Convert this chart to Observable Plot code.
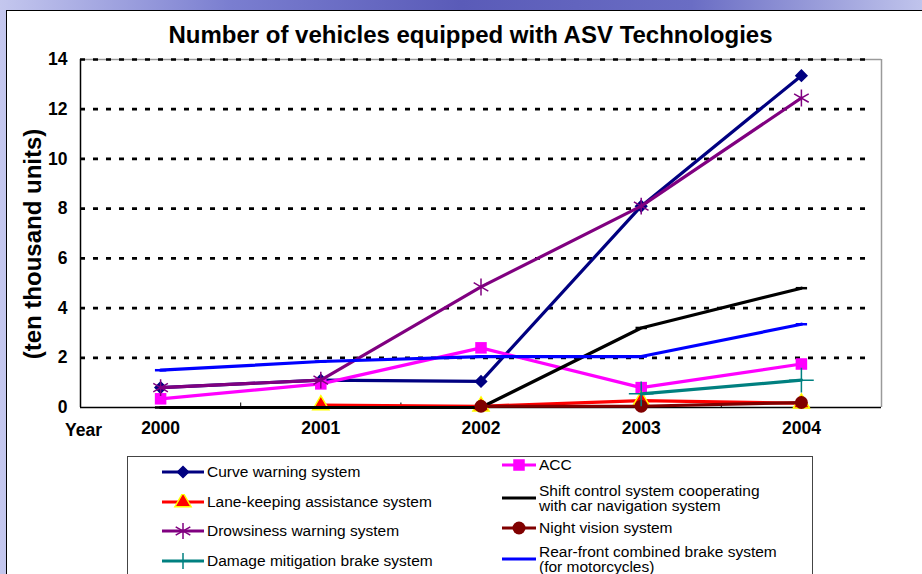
<!DOCTYPE html>
<html>
<head>
<meta charset="utf-8">
<script src="https://cdn.jsdelivr.net/npm/d3@7"></script>
<script src="https://cdn.jsdelivr.net/npm/@observablehq/plot@0.6"></script>
<style>
  html, body { margin: 0; padding: 0; }
  body {
    width: 922px; height: 574px; overflow: hidden; position: relative;
    background: linear-gradient(90deg, #c4c7ee 0%, #7a7ed0 25%, #5a5bb8 50%, #6a6dc4 75%, #c0c4ec 100%);
    font-family: "Liberation Sans", Arial, sans-serif;
  }
  #panel {
    position: absolute; left: 6px; top: 10px; right: 0; bottom: 0;
    background: #fff; border-left: 1.5px solid #000; border-top: 1.5px solid #000;
  }
  #title {
    position: absolute; left: 0; width: 941px; top: 21px; text-align: center;
    font-weight: bold; font-size: 24px; color: #000;
  }
  #ylabel {
    position: absolute; left: 33px; top: 244px; transform: translate(-50%, -50%) rotate(-90deg);
    white-space: nowrap; font-weight: bold; font-size: 24px;
  }
  #yearlbl { position: absolute; left: 65px; top: 420px; font-weight: bold; font-size: 17.5px; }
  #chart { position: absolute; left: 0; top: 0; }
  #legend {
    position: absolute; left: 127px; top: 456px; width: 684px; height: 140px;
    border: 1px solid #444; background: #fff;
  }
  .item { position: absolute; display: flex; align-items: center; font-size: 15.5px; line-height: 15.5px; }
  .item svg { flex: none; margin-right: 2px; }
</style>
</head>
<body>
<div id="panel"></div>
<div id="title">Number of vehicles equipped with ASV Technologies</div>
<div id="chart"></div>
<div id="ylabel">(ten thousand units)</div>
<div id="yearlbl">Year</div>
<div id="legend"></div>
<script>
// ---- data ----
const years = [2000, 2001, 2002, 2003, 2004];
const yTicks = [0, 2, 4, 6, 8, 10, 12, 14];
const seriesNames = [
  "Curve warning system",
  "ACC",
  "Lane-keeping assistance system",
  "Shift control system cooperating with car navigation system",
  "Drowsiness warning system",
  "Night vision system",
  "Damage mitigation brake system",
  "Rear-front combined brake system (for motorcycles)"
];
const legendLabels = [
  "Curve warning system", "ACC",
  "Lane-keeping assistance system", "Shift control system cooperating<br>with car navigation system",
  "Drowsiness warning system", "Night vision system",
  "Damage mitigation brake system", "Rear-front combined brake system<br>(for motorcycles)"
];
const curveWarning = [0.8, 1.1, 1.05, 8.1, 13.35];
const acc = [0.35, 0.95, 2.4, 0.8, 1.75];
const laneKeeping = [null, 0.1, 0.05, 0.28, 0.17];
const shiftControl = [0, 0, 0, 3.2, 4.8];
const drowsiness = [0.8, 1.1, 4.85, 8.1, 12.45];
const nightVision = [null, null, 0.05, 0.05, 0.2];
const damageMitigation = [null, null, null, 0.55, 1.1];
const rearFront = [1.5, 1.85, 2.05, 2.05, 3.35];
const seriesValues = [curveWarning, acc, laneKeeping, shiftControl, drowsiness, nightVision, damageMitigation, rearFront];

// ---- styles ----
const dashSymbol = {
  draw(context, size) {
    const l = Math.sqrt(size) * 0.8;
    context.moveTo(-l, 0);
    context.lineTo(l, 0);
  }
};
const styles = [
  {color: "#000080", symbol: "diamond2", fill: "#000080", stroke: "#000080", r: 5, sw: 1.5},
  {color: "#ff00ff", symbol: "square", fill: "#ff00ff", stroke: "none", r: 6.5, sw: 1.5},
  {color: "#ff0000", symbol: "triangle", fill: "#ff0000", stroke: "#ffff00", r: 6, sw: 1.5},
  {color: "#000000", symbol: dashSymbol, fill: "none", stroke: "#000000", r: 4, sw: 2.5, legendNoMarker: true},
  {color: "#800080", symbol: "asterisk", fill: "none", stroke: "#800080", r: 8, sw: 1.5},
  {color: "#800000", symbol: "circle", fill: "#800000", stroke: "none", r: 6.5, sw: 1.5},
  {color: "#008080", symbol: "plus", fill: "none", stroke: "#008080", r: 8, sw: 1.5},
  {color: "#0000ff", symbol: dashSymbol, fill: "none", stroke: "#0000ff", r: 4, sw: 2.5, legendNoMarker: true}
];

const marks = [
  Plot.ruleY([14], {stroke: "#9a9a9a", strokeWidth: 1.5}),
  Plot.ruleX([2004.5], {stroke: "#9a9a9a", strokeWidth: 1.5}),
  Plot.ruleY(yTicks.filter(d => d > 0), {x1: 1999.5, x2: 2004.45, stroke: "#000", strokeWidth: 2.7, strokeDasharray: "5,8"}),
  Plot.ruleX([2000.5, 2001.5, 2002.5, 2003.5], {y1: 0, y2: 0.18, stroke: "#000", strokeWidth: 1}),
  Plot.ruleX([1999.5], {stroke: "#000", strokeWidth: 1.5}),
  Plot.ruleY([0], {stroke: "#000", strokeWidth: 1.5})
];

seriesValues.forEach((vals, i) => {
  const rows = years.map((y, j) => ({year: y, value: vals[j]})).filter(d => d.value != null);
  const s = styles[i];
  marks.push(Plot.line(rows, {x: "year", y: "value", stroke: s.color, strokeWidth: 3.2}));
  if (s.symbol) {
    marks.push(Plot.dot(rows, {x: "year", y: "value", symbol: s.symbol, r: s.r, fill: s.fill, stroke: s.stroke, strokeWidth: s.sw}));
  }
});

const chart = Plot.plot({
  width: 922,
  height: 450,
  marginLeft: 80,
  marginRight: 41,
  marginTop: 59,
  marginBottom: 43,
  style: {background: "transparent", fontFamily: "'Liberation Sans', Arial, sans-serif", fontSize: "17.5px", fontWeight: "bold", color: "#000"},
  x: {type: "linear", domain: [1999.5, 2004.5]},
  y: {domain: [0, 14]},
  marks: [
    ...marks,
    Plot.axisY(yTicks, {tickSize: 0, tickPadding: 13, label: null, fontWeight: "bold"}),
    Plot.axisX(years, {tickSize: 0, tickPadding: 14, tickFormat: d => String(d), label: null, fontWeight: "bold"})
  ]
});
document.getElementById("chart").appendChild(chart);

// ---- legend ----
const legendPos = [
  {x: 33, y: 15}, {x: 373, y: 8},
  {x: 33, y: 45}, {x: 373, y: 41},
  {x: 33, y: 74}, {x: 373, y: 71},
  {x: 33, y: 104}, {x: 373, y: 102}
];
const symMap = {diamond2: d3.symbolDiamond2, square: d3.symbolSquare, triangle: d3.symbolTriangle, asterisk: d3.symbolAsterisk, circle: d3.symbolCircle, plus: d3.symbolPlus};
const leg = document.getElementById("legend");
seriesNames.forEach((name, i) => {
  const s = styles[i];
  const twoLines = legendLabels[i].includes("<br>");
  const h = twoLines ? 31 : 16;
  const div = document.createElement("div");
  div.className = "item";
  div.style.left = legendPos[i].x + "px";
  div.style.top = (legendPos[i].y - h / 2) + "px";
  div.style.height = h + "px";
  const w = i % 2 === 0 ? 44 : 36;
  const svg = d3.create("svg").attr("width", w).attr("height", 16);
  svg.append("line").attr("x1", 1).attr("x2", w - 1).attr("y1", 8).attr("y2", 8)
    .attr("stroke", s.color).attr("stroke-width", 3.2);
  if (s.symbol && !s.legendNoMarker) {
    svg.append("path").attr("transform", `translate(${w / 2},8)`)
      .attr("d", d3.symbol(symMap[s.symbol], s.r * s.r * Math.PI)())
      .attr("fill", s.fill).attr("stroke", s.stroke).attr("stroke-width", s.sw);
  }
  div.appendChild(svg.node());
  const span = document.createElement("span");
  span.innerHTML = legendLabels[i];
  div.appendChild(span);
  leg.appendChild(div);
});
</script>
</body>
</html>
